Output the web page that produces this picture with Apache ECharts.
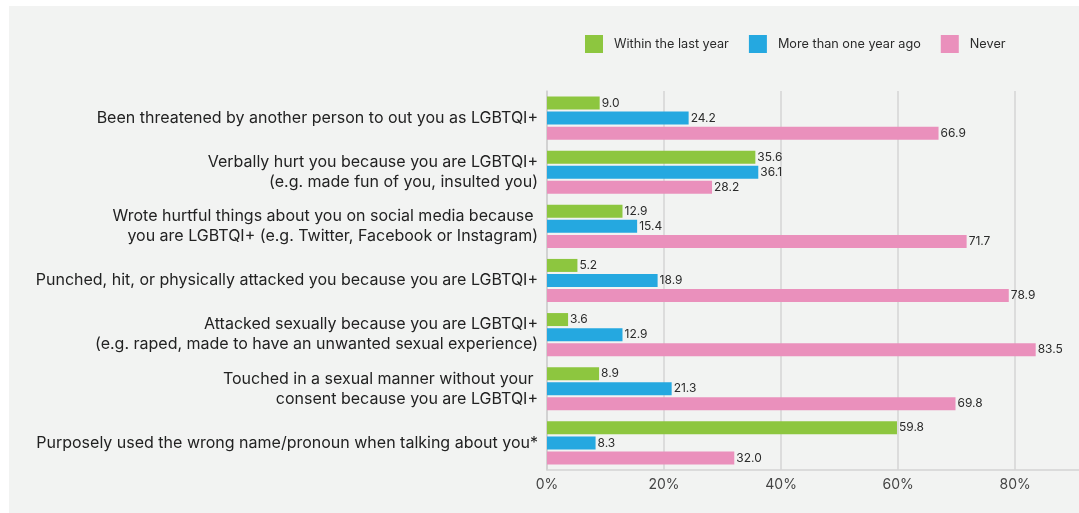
<!DOCTYPE html>
<html>
<head>
<meta charset="utf-8">
<style>
  html, body { margin: 0; padding: 0; background: #ffffff; }
  #chart { width: 1079px; height: 513px; }
</style>
<script src="https://cdn.jsdelivr.net/npm/echarts@6/dist/echarts.min.js"></script>
</head>
<body>
<div id="chart"></div>
<script>
// Experiences of harassment, share of respondents (%)
const categories = [
  'Been threatened by another person to out you as LGBTQI+',
  'Verbally hurt you because you are LGBTQI+\n(e.g. made fun of you, insulted you)',
  'Wrote hurtful things about you on social media because \nyou are LGBTQI+ (e.g. Twitter, Facebook or Instagram)',
  'Punched, hit, or physically attacked you because you are LGBTQI+',
  'Attacked sexually because you are LGBTQI+\n(e.g. raped, made to have an unwanted sexual experience)',
  'Touched in a sexual manner without your \nconsent because you are LGBTQI+',
  'Purposely used the wrong name/pronoun when talking about you*'
];
const seriesNames = ['Within the last year', 'More than one year ago', 'Never'];
const withinLastYear = [9.0, 35.6, 12.9, 5.2, 3.6, 8.9, 59.8];
const moreThanOneYearAgo = [24.2, 36.1, 15.4, 18.9, 12.9, 21.3, 8.3];
const never = [66.9, 28.2, 71.7, 78.9, 83.5, 69.8, 32.0];
const tickValues = [0, 20, 40, 60, 80];

const colors = ['#8dc63f', '#25a8e0', '#ea90bc'];
const fontFamily = 'Inter, "Noto Sans", sans-serif';

const chart = echarts.init(document.getElementById('chart'), null, { renderer: 'canvas' });

function barSeries(name, data, color) {
  return {
    name: name,
    type: 'bar',
    data: data,
    barWidth: 13,
    barGap: '16%',
    itemStyle: { color: color },
    label: {
      show: true,
      position: 'right',
      distance: 2,
      color: '#2b2b2b',
      fontFamily: fontFamily,
      fontSize: 12,
      formatter: p => p.value.toFixed(1)
    }
  };
}

chart.setOption({
  backgroundColor: '#ffffff',
  animation: false,
  graphic: [{
    type: 'rect',
    z: -10,
    silent: true,
    shape: { x: 9, y: 6, width: 1070, height: 507 },
    style: { fill: '#f2f3f2' }
  }],
  legend: {
    data: seriesNames,
    left: 580,
    top: 30,
    itemWidth: 18,
    itemHeight: 18,
    itemGap: 20,
    icon: 'rect',
    textStyle: {
      color: '#2b2b2b',
      fontFamily: fontFamily,
      fontSize: 12.7,
      padding: [0, 0, 0, 6]
    }
  },
  grid: {
    left: 547,
    right: 0,
    top: 91,
    bottom: 43,
    containLabel: false
  },
  xAxis: {
    type: 'value',
    min: 0,
    max: 90.9,
    interval: 20,
    axisLine: { show: true, lineStyle: { color: '#d4d4d4', width: 1.5 } },
    axisTick: { show: false, customValues: tickValues },
    splitLine: { show: true, lineStyle: { color: '#d4d4d4', width: 1.5 } },
    axisLabel: {
      color: '#444444',
      fontFamily: fontFamily,
      fontSize: 14,
      margin: 8,
      customValues: tickValues,
      formatter: v => v + '%'
    }
  },
  yAxis: {
    type: 'category',
    data: categories,
    inverse: true,
    axisLine: { show: true, lineStyle: { color: '#cfcfcf', width: 1.5 } },
    axisTick: { show: false },
    axisLabel: {
      color: '#222222',
      fontFamily: fontFamily,
      fontSize: 16,
      lineHeight: 20,
      margin: 9,
      align: 'right'
    }
  },
  series: [
    barSeries(seriesNames[0], withinLastYear, colors[0]),
    barSeries(seriesNames[1], moreThanOneYearAgo, colors[1]),
    barSeries(seriesNames[2], never, colors[2])
  ]
});
</script>
</body>
</html>
